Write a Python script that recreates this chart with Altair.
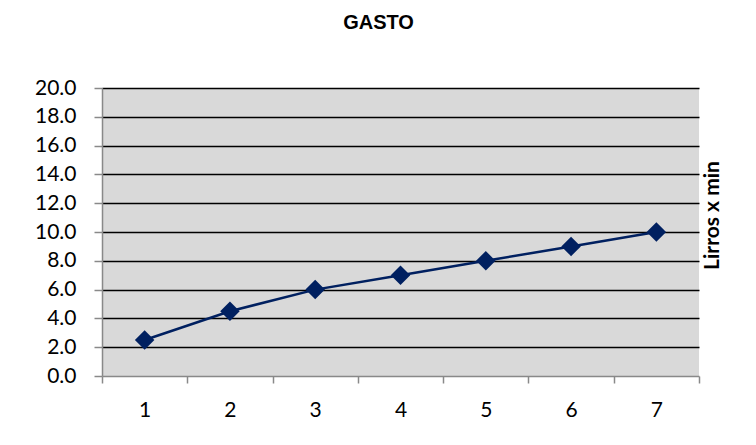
import altair as alt
import pandas as pd

# Data
x_vals = [1, 2, 3, 4, 5, 6, 7]
y_vals = [2.5, 4.5, 6.0, 7.0, 8.0, 9.0, 10.0]
x_ticks = [0.5, 1, 1.5, 2, 2.5, 3, 3.5, 4, 4.5, 5, 5.5, 6, 6.5, 7, 7.5]
y_ticks = [0, 2, 4, 6, 8, 10, 12, 14, 16, 18, 20]

df = pd.DataFrame({"x": x_vals, "y": y_vals})

W, H = 597, 288

x_enc = alt.X(
    "x:Q",
    scale=alt.Scale(domain=[0.5, 7.5], nice=False, zero=False),
    axis=alt.Axis(
        values=x_ticks,
        tickCount=len(x_ticks),
        labelExpr="datum.value % 1 == 0 ? datum.value : ''",
        labelOverlap=False,
        title=None,
        grid=False,
        domainColor="#898989",
        domainWidth=1.5,
        tickColor="#898989",
        tickWidth=1.5,
        tickSize=7,
        tickOpacity={"condition": {"test": "datum.value % 1 != 0", "value": 1}, "value": 0},
        labelFont="Lato",
        labelFontSize=21,
        labelColor="#000000",
        labelPadding=16,
        labelAngle=0,
    ),
)

y_enc = alt.Y(
    "y:Q",
    scale=alt.Scale(domain=[0, 20], nice=False),
    axis=alt.Axis(
        values=y_ticks,
        tickCount=len(y_ticks),
        format=".1f",
        labelOverlap=False,
        title="Lirros x min",
        titleFont="Lato",
        titleFontSize=21,
        titleFontWeight="bold",
        titleColor="#000000",
        titleAngle=270,
        titleX=610,
        titleY=127,
        titleAlign="center",
        titleBaseline="middle",
        grid=True,
        gridColor={"condition": {"test": "datum.value == 0", "value": "transparent"}, "value": "#000000"},
        gridWidth=1.5,
        domainColor="#898989",
        domainWidth=1.5,
        tickColor="#898989",
        tickWidth=1.5,
        tickSize=8,
        labelFont="Lato",
        labelFontSize=21,
        labelColor="#000000",
        labelPadding=18,
    ),
)

line = alt.Chart(df).mark_line(color="#002060", strokeWidth=2.5).encode(x=x_enc, y=y_enc)
points = alt.Chart(df).mark_point(
    shape="diamond", filled=True, color="#002060", size=380, opacity=1
).encode(x="x:Q", y="y:Q")

chart = (
    alt.layer(line, points)
    .properties(
        width=W,
        height=H,
        title=alt.TitleParams(
            "GASTO",
            font="Liberation Sans",
            fontSize=20,
            fontWeight="bold",
            color="#000000",
            anchor="middle",
            dx=-22,
            offset=44,
        ),
        autosize=alt.AutoSizeParams(type="none"),
        padding={"left": 94, "top": 80, "right": 49, "bottom": 61},
        background="#FFFFFF",
    )
    .configure_view(fill="#D9D9D9", stroke=None)
)

chart.save("out.html", embed_options={"renderer": "svg", "actions": False})
